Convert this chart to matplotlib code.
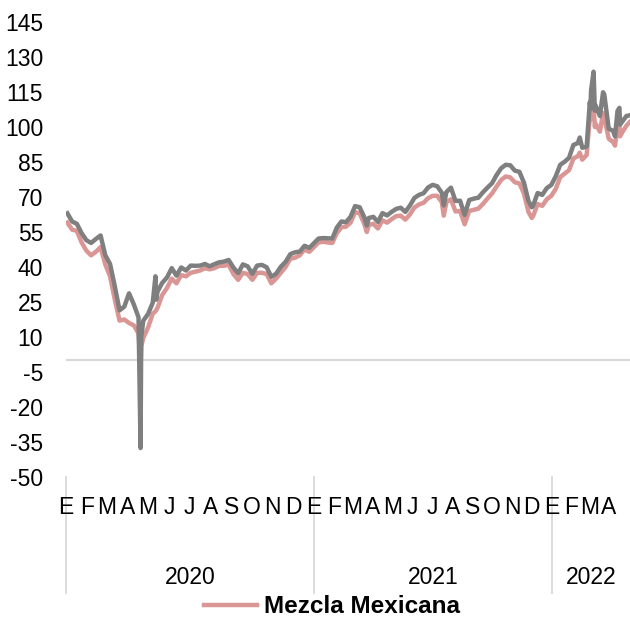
import numpy as np
import pandas as pd
import matplotlib
matplotlib.use("Agg")
import matplotlib.pyplot as plt
from matplotlib.lines import Line2D
import matplotlib.transforms as mtransforms

plt.rcParams['font.family'] = ['Liberation Sans', 'DejaVu Sans']
plt.rcParams['axes.unicode_minus'] = False

# Weekly (Friday) closes, USD per barrel
wti_2020 = [63.0, 59.5, 58.5, 54.5, 51.5, 50.3, 52.0, 53.5, 45.0, 41.3, 31.7, 21.4, 23.0,
            28.7, 24.0, 18.4, 17.0, 19.8, 24.7, 29.4, 33.2, 35.5, 39.5, 36.3, 39.8, 38.5,
            40.6, 40.5, 40.6, 41.3, 40.3, 41.2, 42.0, 42.3, 43.0, 39.8, 37.3, 41.1, 40.3,
            37.1, 40.6, 40.9, 39.9, 35.8, 37.1, 40.1, 42.2, 45.5, 46.3, 46.6, 49.1, 48.2]
mezcla_2020 = [59.0, 56.0, 55.5, 50.5, 47.0, 45.0, 46.5, 48.5, 41.0, 36.0, 26.0, 17.0, 17.5,
               16.0, 15.0, 11.5, 9.5, 14.0, 20.0, 22.5, 28.0, 31.0, 35.0, 33.0, 36.5, 36.0,
               37.5, 38.0, 38.5, 39.5, 39.0, 39.5, 40.5, 40.5, 41.0, 37.0, 34.5, 37.5, 37.0,
               34.5, 37.5, 37.5, 37.0, 33.0, 35.0, 37.5, 40.0, 43.5, 44.0, 45.0, 47.5, 46.5]

wti_2021 = [52.2, 52.4, 52.3, 52.2, 56.9, 59.5, 59.2, 61.5, 66.1, 65.6, 61.4, 61.0, 61.5,
            59.3, 63.1, 62.1, 63.6, 64.9, 65.4, 63.6, 66.3, 69.6, 70.9, 71.6, 74.1, 75.2,
            74.6, 71.8, 72.1, 74.0, 68.3, 68.4, 62.3, 68.7, 69.3, 69.7, 72.0, 74.0, 75.9,
            79.4, 82.3, 83.8, 83.6, 81.3, 80.8, 76.1, 68.2, 66.3, 71.7, 70.9, 73.8, 75.2]
mezcla_2021 = [50.5, 50.8, 50.5, 50.3, 54.5, 57.0, 57.3, 59.0, 63.5, 63.0, 58.5, 58.0, 58.5,
               56.5, 60.0, 59.0, 60.5, 61.8, 62.0, 60.3, 62.5, 65.5, 66.8, 67.5, 69.5, 70.5,
               70.5, 67.8, 67.8, 69.0, 63.8, 64.0, 58.3, 64.0, 64.5, 65.0, 67.0, 69.3, 71.5,
               74.5, 77.3, 78.8, 78.4, 76.3, 75.8, 71.5, 63.5, 61.8, 67.0, 66.2, 69.0, 70.5]

wti_2022 = [78.9, 83.8, 85.1, 86.8, 92.3, 93.1, 91.1, 91.6, 115.7, 109.3, 104.7, 113.9,
            99.3, 98.3, 106.9, 102.1, 104.7]
mezcla_2022 = [73.5, 78.5, 80.0, 81.5, 86.5, 87.5, 86.0, 88.0, 104.0, 101.5, 98.0, 104.0,
               95.0, 93.5, 100.0, 97.5, 100.5]

# Single-day moves that the weekly data misses
extra_dates = ['2020-04-20', '2020-04-21', '2020-05-12', '2020-05-13', '2021-03-23',
               '2021-07-19', '2021-12-01', '2022-02-14', '2022-03-02', '2022-03-03',
               '2022-03-08', '2022-03-10', '2022-03-23', '2022-04-11', '2022-04-18',
               '2022-04-19', '2022-05-04']
wti_extra = [-37.6, 10.0, 36.0, 26.0, 57.8, 66.4, 65.6, 95.5, 110.6, 107.7,
             123.7, 107.0, 114.9, 96.0, 108.2, 101.0, 105.0]
mezcla_extra = [-2.4, 6.0, 21.0, 21.5, 55.0, 62.0, 61.0, 89.0, 104.0, 103.0,
                109.0, 100.0, 106.0, 92.0, 100.5, 96.0, 102.0]

months = ['E', 'F', 'M', 'A', 'M', 'J', 'J', 'A', 'S', 'O', 'N', 'D']
years = [2020, 2021, 2022]
yticks = list(range(-50, 146, 15))

# horizontal room each year takes on the category axis
year_width = {2020: 248, 2021: 238, 2022: 230}
year_start = {2020: 0, 2021: 248, 2022: 486}
x_end = 564


def xpos(d):
    d = pd.Timestamp(d)
    n = 366 if d.is_leap_year else 365
    return year_start[d.year] + (d.dayofyear - 1) / n * year_width[d.year]


weeks = (list(pd.date_range('2020-01-03', periods=len(wti_2020), freq='W-FRI'))
         + list(pd.date_range('2021-01-08', periods=len(wti_2021), freq='W-FRI'))
         + list(pd.date_range('2022-01-07', periods=len(wti_2022), freq='W-FRI')))
idx = pd.DatetimeIndex(weeks + list(pd.to_datetime(extra_dates)))
wti = pd.Series(wti_2020 + wti_2021 + wti_2022 + wti_extra, index=idx).sort_index()
mezcla = pd.Series(mezcla_2020 + mezcla_2021 + mezcla_2022 + mezcla_extra, index=idx).sort_index()
xs = [xpos(d) for d in wti.index]

pink = '#d99694'
grey = '#7f7f7f'
sep = '#d9d9d9'

fig = plt.figure(figsize=(6.3, 6.18), dpi=100)
ax = fig.add_axes([0.1048, 0.2282, 0.8952, 0.7362])

ax.axhline(0, color=sep, lw=1.6, zorder=1)
ax.plot(xs, mezcla.values, color=pink, lw=3.2, zorder=2, solid_joinstyle='round')
ax.plot(xs, wti.values, color=grey, lw=3.2, zorder=3, solid_joinstyle='round')

ax.set_xlim(0, x_end)
ax.set_ylim(-50, 145)
ax.set_yticks(yticks)
ax.tick_params(axis='y', length=0, labelsize=16.5, pad=16.5)
ax.set_xticks([])
for s in ax.spines.values():
    s.set_visible(False)

trans = mtransforms.blended_transform_factory(ax.transData, ax.transAxes)

# month letters
for yr, n in zip(years, [12, 12, 4]):
    for m in range(n):
        ax.text(xpos(f'{yr}-{m + 1:02d}-01'), -0.066, months[m], transform=trans,
                ha='center', va='center', fontsize=16.5, clip_on=False)

# year labels and separators
bounds = [year_start[2020], year_start[2021], year_start[2022], x_end]
for i, yr in enumerate(years):
    ax.text((bounds[i] + bounds[i + 1]) / 2, -0.222, str(yr), transform=trans,
            ha='center', va='center', fontsize=16.5, clip_on=False)
for b in bounds[:3]:
    ax.add_line(Line2D([b, b], [0, -0.256], transform=trans, color=sep, lw=1.3,
                       clip_on=False))

handle = Line2D([], [], color=pink, lw=3.2)
fig.legend([handle], ['Mezcla Mexicana'], loc='center', bbox_to_anchor=(0.527, 0.018),
           frameon=False, handlelength=2.2, handletextpad=0.3,
           prop={'weight': 'bold', 'size': 17.5})

fig.savefig('out.png', dpi=100)
